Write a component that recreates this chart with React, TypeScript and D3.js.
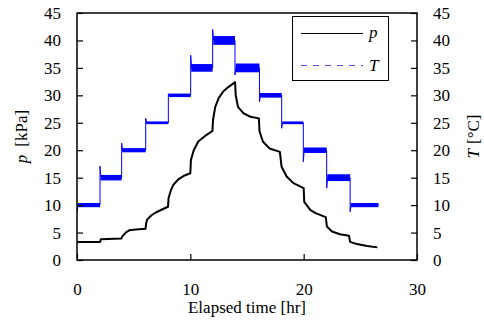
import React, { useRef, useEffect } from 'react';
import { select, scaleLinear, axisLeft, axisRight, axisBottom, line, range } from 'd3';

// pressure p [kPa] vs elapsed time [hr]
const pTime = [0, 2.05, 2.1, 3.9, 4.0, 4.3, 4.6, 5.2, 6.05, 6.1, 6.2, 6.6, 7.0, 7.5, 8.03, 8.08, 8.3, 8.5, 9.0, 9.5, 10.0,
  10.05, 10.3, 10.7, 11.3, 11.95, 12.0, 12.2, 12.5, 12.9, 13.35, 13.95, 14.0, 14.2, 14.7, 15.3, 16.05, 16.1, 16.4, 17.0,
  17.9, 18.05, 18.5, 19.1, 20.0, 20.05, 20.6, 21.1, 21.95, 22.05, 22.5, 23.2, 24.0, 24.1, 24.7, 25.6, 26.5];
const pValue = [3.3, 3.3, 3.8, 3.9, 4.3, 5.0, 5.4, 5.55, 5.7, 6.7, 7.4, 8.2, 8.7, 9.2, 9.7, 11.3, 12.8, 13.7, 14.8, 15.4, 15.8,
  18.2, 20.0, 21.6, 22.6, 23.5, 25.5, 27.9, 29.5, 30.7, 31.5, 32.4, 30.1, 27.9, 26.7, 26.1, 25.8, 23.5, 21.6, 20.3,
  19.7, 17.0, 15.2, 14.0, 13.1, 10.6, 9.1, 8.5, 7.8, 6.1, 5.2, 4.7, 4.4, 3.3, 2.9, 2.55, 2.3];

// temperature T [°C] set-point plateaus
const stepStart = [0, 2.03, 3.94, 6.06, 8.06, 10.03, 11.97, 13.94, 16.1, 18.06, 19.97, 22.03, 24.1];
const stepEnd = [2.03, 3.94, 6.06, 8.06, 10.03, 11.97, 13.94, 16.1, 18.06, 19.97, 22.03, 24.1, 26.6];
const stepLevel = [10, 15, 20, 25, 30, 35, 40, 35, 30, 25, 20, 15, 10];
const stepSpike = [8.8, 17.1, 21.3, 25.8, 30.3, 37.3, 42.0, 33.7, 28.8, 24.0, 17.9, 13.1, 8.8];
const stepNoise = [0.38, 0.5, 0.38, 0.25, 0.32, 0.7, 0.8, 0.8, 0.42, 0.25, 0.5, 0.62, 0.38];

const yTicks = range(0, 46, 5);
const xTicks = [0, 10, 20, 30];

const W = 484;
const H = 321;
const margin = { left: 77, right: 67, top: 13, bottom: 61 };
const FONT =
  '"Liberation Serif", "DejaVu Serif", "Noto Serif", "Times New Roman", Times, "Nimbus Roman", FreeSerif, serif';

const App = () => {
  const svgRef = useRef(null);

  useEffect(() => {
    const svg = select(svgRef.current);
    svg.selectAll('*').remove();

    const x = scaleLinear().domain([0, 30]).range([margin.left, W - margin.right]);
    const y = scaleLinear().domain([0, 45]).range([H - margin.bottom, margin.top]);

    // temperature: noisy bands + stepped line with overshoot
    const tPts = [];
    stepStart.forEach((s, i) => {
      if (i > 0) tPts.push([s, stepLevel[i - 1]]);
      tPts.push([s, stepSpike[i]]);
      tPts.push([s + 0.08, stepLevel[i]]);
      tPts.push([stepEnd[i], stepLevel[i]]);
    });

    svg
      .selectAll('.band')
      .data(stepStart)
      .join('rect')
      .attr('class', 'band')
      .attr('x', (s) => x(s + 0.05))
      .attr('width', (s, i) => x(stepEnd[i]) - x(s + 0.05))
      .attr('y', (s, i) => y(stepLevel[i] + stepNoise[i]))
      .attr('height', (s, i) => y(stepLevel[i] - stepNoise[i]) - y(stepLevel[i] + stepNoise[i]))
      .attr('fill', '#0000ff');

    const lineGen = line()
      .x((d) => x(d[0]))
      .y((d) => y(d[1]));

    svg
      .append('path')
      .attr('d', lineGen(tPts))
      .attr('fill', 'none')
      .attr('stroke', '#0000ff')
      .attr('stroke-width', 1);

    svg
      .append('path')
      .attr('d', lineGen(pTime.map((t, i) => [t, pValue[i]])))
      .attr('fill', 'none')
      .attr('stroke', '#000')
      .attr('stroke-width', 2)
      .attr('stroke-linejoin', 'round');

    // axes (inward ticks)
    const left = svg
      .append('g')
      .attr('transform', `translate(${margin.left},0)`)
      .call(axisLeft(y).tickValues(yTicks).tickSize(-6).tickPadding(16));
    const right = svg
      .append('g')
      .attr('transform', `translate(${W - margin.right},0)`)
      .call(axisRight(y).tickValues(yTicks).tickSize(-6).tickPadding(16));
    const bottom = svg
      .append('g')
      .attr('transform', `translate(0,${H - margin.bottom})`)
      .call(axisBottom(x).tickValues(xTicks).tickSize(-6).tickPadding(23));

    [left, right, bottom].forEach((g) => {
      g.attr('font-family', null).attr('font-size', null);
      g.select('.domain').remove();
      g.selectAll('line').attr('stroke', '#000').attr('stroke-width', 1.2);
      g.selectAll('text').style('font-family', FONT).style('font-size', '17px').attr('fill', '#000');
    });

    svg
      .append('rect')
      .attr('x', margin.left)
      .attr('y', margin.top)
      .attr('width', W - margin.left - margin.right)
      .attr('height', H - margin.top - margin.bottom)
      .attr('fill', 'none')
      .attr('stroke', '#000')
      .attr('stroke-width', 1.5);

    // axis titles
    svg
      .append('text')
      .attr('x', (margin.left + W - margin.right) / 2)
      .attr('y', 313)
      .attr('text-anchor', 'middle')
      .style('font-family', FONT)
      .style('font-size', '17px')
      .text('Elapsed time [hr]');

    const yl = svg
      .append('text')
      .attr('transform', `translate(27,${(margin.top + H - margin.bottom) / 2}) rotate(-90)`)
      .attr('text-anchor', 'middle')
      .style('font-family', FONT)
      .style('font-size', '17px');
    yl.append('tspan').style('font-style', 'italic').text('p');
    yl.append('tspan').attr('dx', 8).text('[kPa]');

    const yr = svg
      .append('text')
      .attr('transform', `translate(479,${(margin.top + H - margin.bottom) / 2}) rotate(-90)`)
      .attr('text-anchor', 'middle')
      .style('font-family', FONT)
      .style('font-size', '17px');
    yr.append('tspan').style('font-style', 'italic').text('T');
    yr.append('tspan').attr('dx', 5).text('[°C]');

    // legend
    const lg = svg.append('g');
    lg.append('rect')
      .attr('x', 292.5)
      .attr('y', 16.5)
      .attr('width', 96)
      .attr('height', 64)
      .attr('fill', '#fff')
      .attr('stroke', '#000')
      .attr('stroke-width', 1);
    lg.append('line').attr('x1', 301).attr('x2', 363).attr('y1', 33.5).attr('y2', 33.5).attr('stroke', '#000');
    lg.append('line')
      .attr('x1', 301)
      .attr('x2', 363)
      .attr('y1', 65.5)
      .attr('y2', 65.5)
      .attr('stroke', '#4d4dff')
      .attr('stroke-dasharray', '6,6');
    lg.append('text')
      .attr('x', 369)
      .attr('y', 38)
      .style('font-family', FONT)
      .style('font-size', '17px')
      .style('font-style', 'italic')
      .text('p');
    lg.append('text')
      .attr('x', 369)
      .attr('y', 71)
      .style('font-family', FONT)
      .style('font-size', '17px')
      .style('font-style', 'italic')
      .text('T');
  }, []);

  return (
    <svg
      ref={svgRef}
      width={W}
      height={H}
      style={{ position: 'absolute', left: 0, top: 0, background: '#fff' }}
    />
  );
};

export default App;
